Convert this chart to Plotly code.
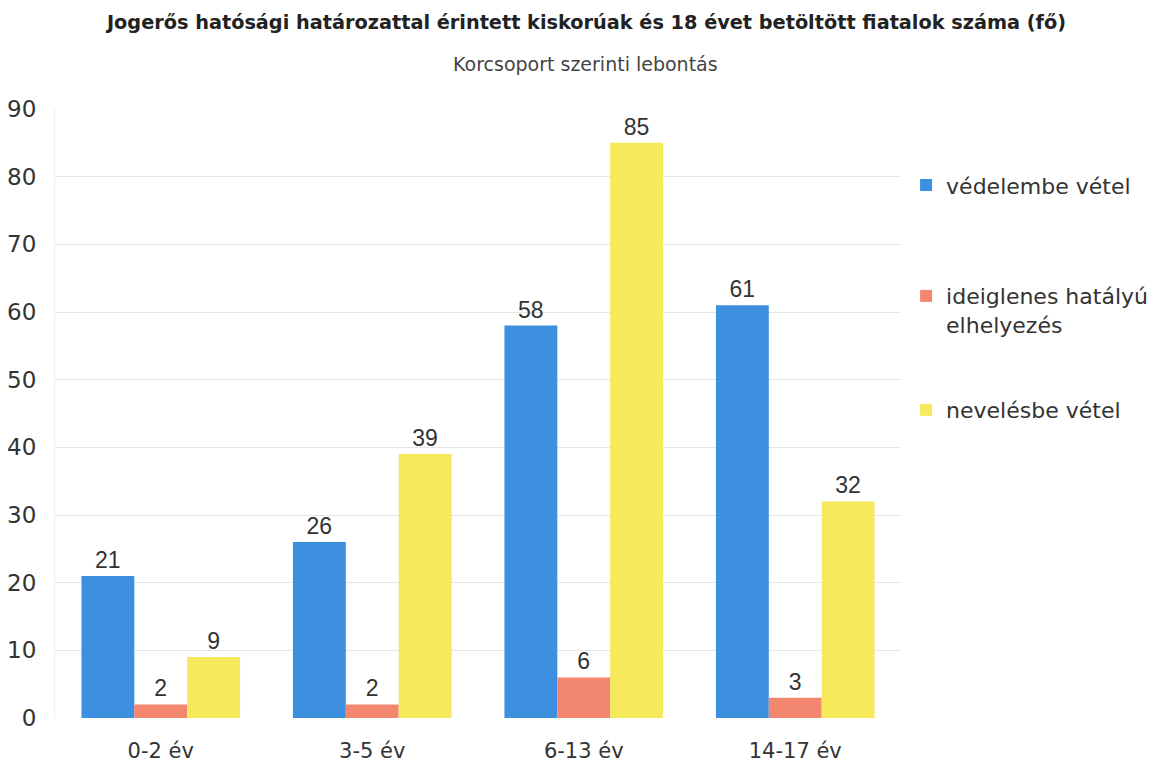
import plotly.graph_objects as go

categories = ["0-2 év", "3-5 év", "6-13 év", "14-17 év"]
series_names = ["védelembe vétel", "ideiglenes hatályú<br>elhelyezés", "nevelésbe vétel"]
vedelembe = [21, 26, 58, 61]
ideiglenes = [2, 2, 6, 3]
nevelesbe = [9, 39, 85, 32]
colors = ["#3d8fe0", "#f3866f", "#f6ea5c"]
legend_ids = ["legend", "legend2", "legend3"]

fig = go.Figure()
for i, (name, vals) in enumerate(zip(series_names, [vedelembe, ideiglenes, nevelesbe])):
    fig.add_trace(go.Bar(
        x=categories, y=vals, name=name, legend=legend_ids[i],
        marker=dict(color=colors[i], line=dict(width=0)),
        text=[str(v) for v in vals], textposition="outside",
        textfont=dict(family="Liberation Sans, Arial", size=23, color="#333333"),
        cliponaxis=False,
    ))

leg_font = dict(family="DejaVu Sans", size=22, color="#333333")
fig.update_layout(
    width=1157, height=765,
    paper_bgcolor="white", plot_bgcolor="white",
    barmode="group", bargap=0.25, bargroupgap=0,
    margin=dict(l=47, r=260, t=101, b=55),
    font=dict(family="DejaVu Sans", color="#333333"),
    title=dict(text="<b>Jogerős hatósági határozattal érintett kiskorúak és 18 évet betöltött fiatalok száma (fő)</b>",
               x=0.5, xanchor="center", y=0.9817, yanchor="middle",
               font=dict(family="DejaVu Sans", size=19.3, color="#222222")),
    annotations=[dict(text="Korcsoport szerinti lebontás", xref="paper", yref="paper",
                      x=0.627, y=1.0, yshift=45, xanchor="center", yanchor="middle", showarrow=False,
                      font=dict(family="DejaVu Sans", size=19, color="#444444"))],
    legend=dict(x=1.006, xanchor="left", y=0.875, yanchor="middle", font=leg_font,
                bgcolor="rgba(0,0,0,0)"),
    legend2=dict(x=1.006, xanchor="left", y=0.669, yanchor="middle", font=leg_font,
                 valign="top", bgcolor="rgba(0,0,0,0)"),
    legend3=dict(x=1.006, xanchor="left", y=0.5057, yanchor="middle", font=leg_font,
                 bgcolor="rgba(0,0,0,0)"),
    showlegend=True,
)
fig.update_yaxes(range=[0, 90], dtick=10, showgrid=True, gridcolor="#e6e6e6", gridwidth=1,
                 tickfont=dict(family="DejaVu Sans", size=23, color="#333333"), zeroline=False,
                 showline=True, linecolor="#eeeeee", ticks="", ticklabelstandoff=13,
                 automargin=False)
fig.update_xaxes(tickfont=dict(family="DejaVu Sans", size=21, color="#333333"), showline=False,
                 ticks="", ticklabelstandoff=18, automargin=False)

fig.write_html("out.html")
